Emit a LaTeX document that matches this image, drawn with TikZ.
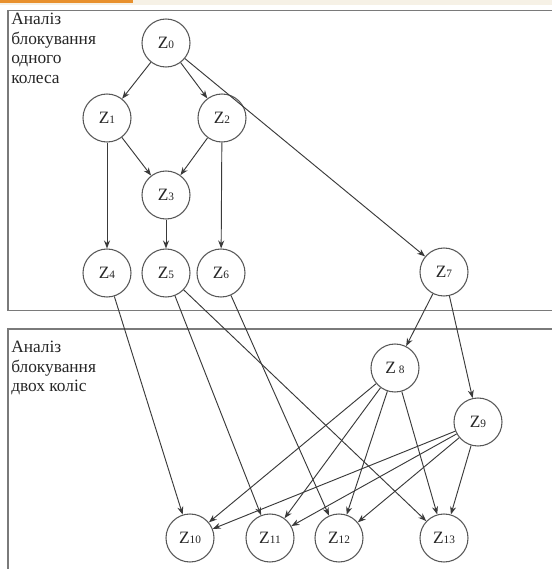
\documentclass[tikz,border=0pt]{standalone}
\usepackage{fontspec}
\setmainfont{Liberation Serif}
\usetikzlibrary{arrows.meta}
\definecolor{framegray}{HTML}{7A7A7A}
\definecolor{linegray}{HTML}{3A3A3A}
\definecolor{txtgray}{HTML}{262626}
\definecolor{topbar}{HTML}{E8902E}
\definecolor{topbeige}{HTML}{F6F1E6}
\newcommand{\zlab}[1]{Z{\fontsize{8.5}{9}\selectfont #1}}
\begin{document}
\begin{tikzpicture}[x=0.75pt,y=-0.75pt,
  zn/.style={circle,draw=linegray!85,line width=0.8pt,minimum size=36pt,inner sep=0pt,
    text=txtgray,font=\fontsize{13}{15}\selectfont},
  conn/.style={draw=linegray,line width=0.7pt,-{Stealth[length=6pt,width=4.5pt]}},
  frm/.style={draw=framegray,line width=1.1pt},
  grp/.style={anchor=north west,align=left,inner sep=0pt,text=txtgray,
    font=\fontsize{13}{14.6}\selectfont}]
\useasboundingbox (0,0) rectangle (552,569);
\clip (0,0) rectangle (552,569);
\fill[white] (0,0) rectangle (552,569);
\fill[topbeige] (0,0) rectangle (552,5);
\fill[topbar] (0,0) rectangle (133,3);
% frames
\draw[frm] (8,10.5) rectangle (570,310.5);
\draw[frm] (8,329) rectangle (570,590);
% group labels
\node[grp] (g1) at (11,13) {Аналіз\\блокування\\одного\\колеса};
\node[grp] (g2) at (11,341) {Аналіз\\блокування\\двох коліс};
% nodes
\node[zn] (z0) at (166,43) {\zlab{0}};
\node[zn] (z1) at (107,118) {\zlab{1}};
\node[zn] (z2) at (222,118) {\zlab{2}};
\node[zn] (z3) at (166,195) {\zlab{3}};
\node[zn] (z4) at (107,273) {\zlab{4}};
\node[zn] (z5) at (166,273) {\zlab{5}};
\node[zn] (z6) at (221,273) {\zlab{6}};
\node[zn] (z7) at (444,272) {\zlab{7}};
\node[zn] (z8) at (395,368) {Z\,{\fontsize{8.5}{9}\selectfont 8}};
\node[zn] (z9) at (478,422) {\zlab{9}};
\node[zn] (z10) at (190,538) {\zlab{10}};
\node[zn] (z11) at (270,538) {\zlab{11}};
\node[zn] (z12) at (339,538) {\zlab{12}};
\node[zn] (z13) at (444,538) {\zlab{13}};
% connectors
\draw[conn] (z0) -- (z1);
\draw[conn] (z0) -- (z2);
\draw[conn] (z0) -- (z7);
\draw[conn] (z1) -- (z3);
\draw[conn] (z1) -- (z4);
\draw[conn] (z2) -- (z3);
\draw[conn] (z2) -- (z6);
\draw[conn] (z3) -- (z5);
\draw[conn] (z4) -- (z10);
\draw[conn] (z5) -- (z11);
\draw[conn] (z5) -- (z13);
\draw[conn] (z6) -- (z12);
\draw[conn] (z7) -- (z8);
\draw[conn] (z7) -- (z9);
\draw[conn] (z8) -- (z10);
\draw[conn] (z8) -- (z11);
\draw[conn] (z8) -- (z12);
\draw[conn] (z8) -- (z13);
\draw[conn] (z9) -- (z10);
\draw[conn] (z9) -- (z11);
\draw[conn] (z9) -- (z12);
\draw[conn] (z9) -- (z13);
\end{tikzpicture}
\end{document}
